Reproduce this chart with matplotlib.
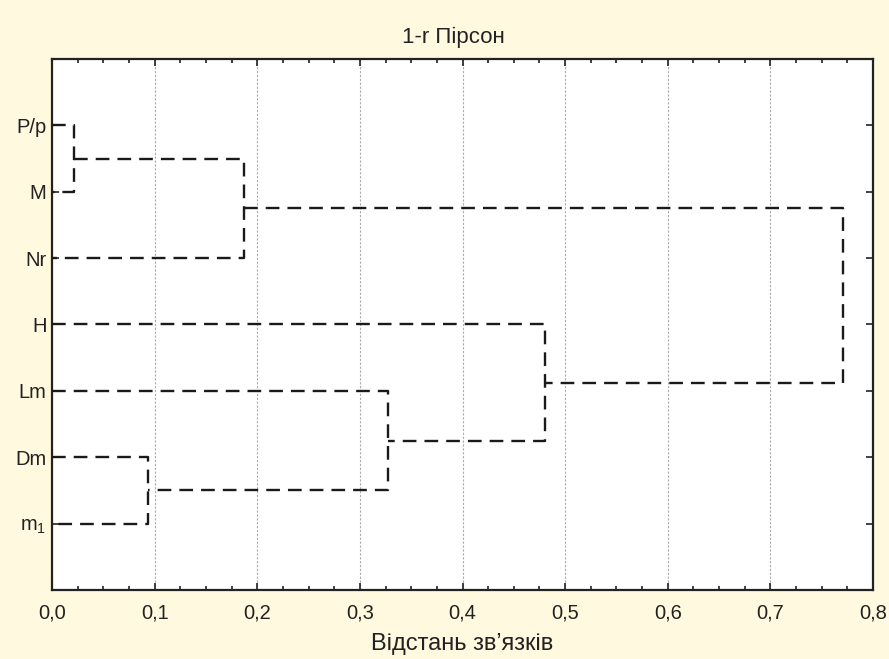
import numpy as np
import matplotlib.pyplot as plt
from matplotlib.ticker import MultipleLocator, FuncFormatter

plt.rcParams['font.family'] = ['Liberation Sans', 'DejaVu Sans']

# leaves, top to bottom
labels = ['P/p', 'M', 'Nr', 'H', 'Lm', 'Dm', r'm$\mathregular{_1}$']
# linkage: child a, child b, distance (clusters numbered after the leaves)
link_a = [0, 7, 5, 4, 3, 8]
link_b = [1, 2, 6, 9, 10, 11]
link_h = [0.0214, 0.1875, 0.0936, 0.327, 0.4805, 0.771]

bg = '#fffadf'
fig = plt.figure(figsize=(8.89, 6.59), dpi=100, facecolor=bg)
ax = fig.add_axes([0.0585, 0.1047, 0.9235, 0.8058])
ax.set_facecolor('white')

xs = [0.0] * len(labels)
ys = [i + 1.0 for i in range(len(labels))]
for a, b, h in zip(link_a, link_b, link_h):
    ax.plot([xs[a], h, h, xs[b]], [ys[a], ys[a], ys[b], ys[b]],
            color='#1a1a1a', lw=1.7, dashes=(5.8, 3.4), zorder=3)
    xs.append(h)
    ys.append((ys[a] + ys[b]) / 2)

ax.set_xlim(0, 0.8)
ax.set_ylim(len(labels) + 1, 0)
ax.set_yticks(range(1, len(labels) + 1))
ax.set_yticklabels(labels)
ax.xaxis.set_major_locator(MultipleLocator(0.1))
ax.xaxis.set_minor_locator(MultipleLocator(0.025))
ax.xaxis.set_major_formatter(FuncFormatter(lambda v, p: f'{v:.1f}'.replace('.', ',')))
ax.tick_params(which='both', direction='in', top=True, right=True,
               labelsize=14.5, colors='#222222', width=1.2)
ax.tick_params(which='major', length=5)
ax.tick_params(which='minor', length=3)
ax.tick_params(axis='x', pad=10)
ax.tick_params(axis='y', pad=4)
ax.grid(axis='x', which='major', color='#aaaaaa', lw=0.8, ls=(0, (2, 1.5)))
ax.set_axisbelow(True)
for s in ax.spines.values():
    s.set_linewidth(1.6)
    s.set_color('#222222')

fig.text(453 / 889, 1 - 37 / 659, '1-r Пірсон', fontsize=16, color='#222222',
         ha='center', va='center')
ax.set_xlabel('Відстань зв’язків', fontsize=17, color='#222222', labelpad=7)

fig.savefig('out.png', dpi=100, facecolor=bg)
